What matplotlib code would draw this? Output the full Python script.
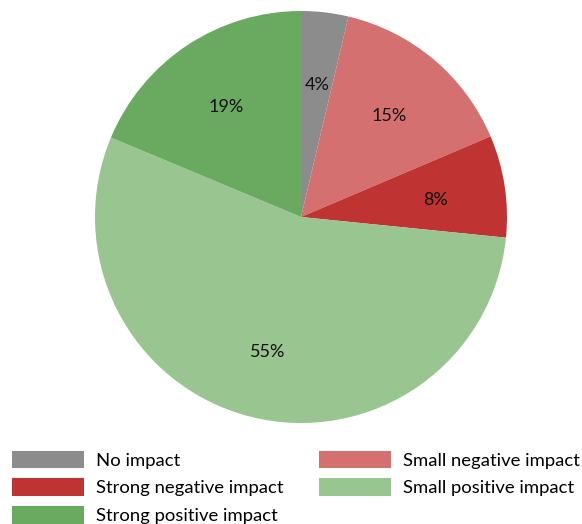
import matplotlib
matplotlib.use("Agg")
import matplotlib.pyplot as plt

plt.rcParams['font.family'] = ['Lato', 'DejaVu Sans']

# slices clockwise from 12 o'clock
categories = ['No impact', 'Small negative impact', 'Strong negative impact',
              'Small positive impact', 'Strong positive impact']
values = [3.7, 14.9, 8.0, 54.7, 18.7]
colors = ['#8c8c8c', '#d47070', '#c03333', '#99c590', '#69aa60']

# legend order (column-wise)
legend_order = [0, 2, 4, 1, 3]

fig = plt.figure(figsize=(5.82, 5.24), dpi=100)
ax = fig.add_axes([95 / 582, 101 / 524, 412 / 582, 412 / 524])

wedges, texts, autotexts = ax.pie(
    values, colors=colors, startangle=90, counterclock=False,
    autopct='%1.0f%%', pctdistance=0.66, radius=1.0,
    wedgeprops=dict(linewidth=0),
    textprops=dict(fontsize=13, color='#111111'))
for t in autotexts:
    x, y = t.get_position()
    t.set_position((x, y - 0.015))
ax.set_xlim(-1, 1)
ax.set_ylim(-1, 1)
ax.set_aspect('equal')

fig.legend([wedges[i] for i in legend_order],
           [categories[i] for i in legend_order],
           ncol=2, loc='upper left', bbox_to_anchor=(6 / 582, 1 - 445 / 524),
           frameon=False, fontsize=13.3, handlelength=3.9, handleheight=1.1,
           handletextpad=0.65, labelspacing=0.52, columnspacing=1.95,
           borderaxespad=0, borderpad=0.3)

fig.savefig('out.png', dpi=100)
